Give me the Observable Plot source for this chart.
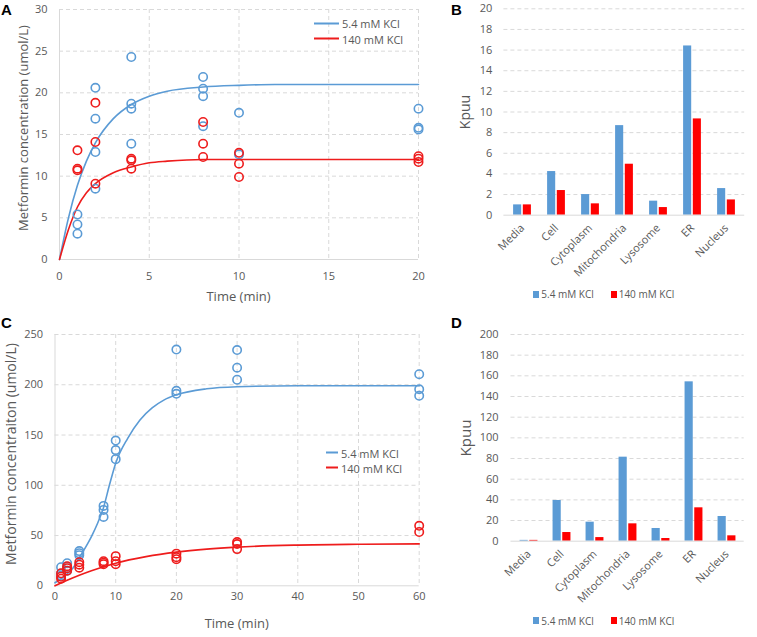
<!DOCTYPE html>
<html><head><meta charset="utf-8">
<script src="https://cdn.jsdelivr.net/npm/d3@7"></script>
<script src="https://cdn.jsdelivr.net/npm/@observablehq/plot@0.6"></script>
<style>
body{margin:0;background:#fff;}
#root{position:relative;width:757px;height:637px;overflow:hidden;font-family:"Open Sans",sans-serif;background:#fff;}
.p{position:absolute;}
.p svg{background:transparent !important;overflow:visible;}
.lbl{position:absolute;white-space:nowrap;color:#595959;line-height:1;}
.rot{transform:translate(-50%,-50%) rotate(-90deg);}
.hc{transform:translate(-50%,-50%);}
.vc{transform:translateY(-50%);display:flex;align-items:center;}
.letter{position:absolute;font-family:"Liberation Sans",Arial,sans-serif;font-weight:bold;font-size:15px;line-height:1;color:#000;}
.sq{display:inline-block;width:6px;height:7px;margin-right:2px;}
.ln{display:inline-block;height:2px;margin-right:3px;}
</style></head><body><div id="root"></div>
<script>
// ---------- data ----------
const seriesNames = ["5.4 mM KCl", "140 mM KCl"];
const compartments = ["Media", "Cell", "Cytoplasm", "Mitochondria", "Lysosome", "ER", "Nucleus"];

// Panel A: measured points
const aBlueT = [1,1,1, 2,2,2,2, 4,4,4,4, 8,8,8,8, 10,10, 20,20,20];
const aBlueY = [5.4,4.2,3.1, 20.6,16.9,12.9,8.5, 24.3,18.7,18.1,13.9, 21.9,20.5,19.6,16.0, 17.6,12.6, 18.1,15.8,15.6];
const aRedT  = [1,1,1, 2,2,2, 4,4,4, 8,8,8, 10,10,10, 20,20,20];
const aRedY  = [13.1,10.9,10.7, 18.8,14.1,9.1, 12.1,11.9,10.9, 16.5,13.9,12.3, 12.8,11.5,9.9, 12.4,12.1,11.7];
// Panel A: fitted curves
const aBlueCurveT = [0,0.5,1,1.5,2,3,4,5,6,8,10,12,15,20];
const aBlueCurveY = [0,5.0,8.9,11.8,14.0,16.9,18.6,19.6,20.2,20.7,20.9,21.0,21.0,21.0];
const aRedCurveT  = [0,0.5,1,1.5,2,3,4,5,6,8,10,15,20];
const aRedCurveY  = [0,3.6,6.3,8.0,9.1,10.4,11.1,11.6,11.8,12.0,12.0,12.0,12.0];

// Panel B: Kpuu
const bBlue = [1.0, 4.23, 2.0, 8.68, 1.36, 16.4, 2.58];
const bRed  = [1.0, 2.39, 1.1, 4.94, 0.74, 9.33, 1.48];

// Panel C: measured points
const cBlueT = [1,1,1, 2,2,2, 4,4,4, 8,8,8, 10,10,10, 20,20,20, 30,30,30, 60,60,60];
const cBlueY = [18.5,12,10, 22.5,19,15, 34.5,32.5,30.5, 79.5,75.5,68.5, 144.5,135,126, 235,194,191, 234.5,217,205, 210.5,195.5,189];
const cRedT  = [1,1,1, 2,2,2, 4,4,4, 8,8,8, 10,10,10, 20,20,20, 30,30,30, 60,60];
const cRedY  = [12.5,9,7, 19.5,17.5,15, 23.5,21,18, 24.5,23,21.5, 29.5,24.5,21.5, 32,28.5,26.5, 43.5,41.5,36.5, 59.7,53.5];
// Panel C: fitted curves
const cBlueCurveT = [0,1,2,3,4,5,6,7,8,9,10,12,14,16,18,20,25,30,40,50,60];
const cBlueCurveY = [3,7,12,18,28,38,49,62,78,101,122,147,165,177,185,190,196,198,199,199,199];
const cRedCurveT  = [0,2,4,6,8,10,15,20,25,30,40,50,60];
const cRedCurveY  = [0,5.5,10.5,15,19,22.5,29,33.5,36.5,38.5,40.5,41.3,41.7];

// Panel D: Kpuu
const dBlue = [0.8, 39.4, 18.4, 81.3, 12.3, 154.2, 23.9];
const dRed  = [0.8, 8.4, 3.5, 16.8, 2.6, 32.3, 5.2];

// ---------- styles ----------
const BLUE = "#5B9BD5", RED = "#FF0000", LRED = "#EE1C1C", GRID = "#D9D9D9", TXT = "#595959";
const root = document.getElementById("root");

function place(node, left, top) {
  const d = document.createElement("div");
  d.className = "p";
  d.style.left = left + "px"; d.style.top = top + "px";
  d.appendChild(node);
  root.appendChild(d);
}
function zip(t, y) { return t.map((v, i) => ({t: v, y: y[i]})); }

function scatter(cfg) {
  const xt = cfg.xTicks, yt = cfg.yTicks;
  return Plot.plot({
    width: cfg.width, height: cfg.height,
    marginLeft: cfg.ml, marginRight: cfg.mr, marginTop: cfg.mt, marginBottom: cfg.mb,
    style: {background: "transparent", fontFamily: "Open Sans", fontSize: "11px", color: TXT},
    x: {domain: [xt[0], xt[xt.length-1]], ticks: xt, tickSize: 0, tickPadding: cfg.xPad, label: null},
    y: {domain: [yt[0], yt[yt.length-1]], ticks: yt, tickSize: 0, tickPadding: 12, label: null},
    marks: [
      Plot.ruleX(xt.slice(1), {stroke: GRID, strokeOpacity: 1, strokeDasharray: "4,3"}),
      Plot.ruleY(yt.slice(1), {stroke: GRID, strokeOpacity: 1, strokeDasharray: "4,3"}),
      Plot.ruleX([xt[0]], {stroke: GRID, strokeOpacity: 1}),
      Plot.ruleY([yt[0]], {stroke: GRID, strokeOpacity: 1}),
      Plot.line(zip(cfg.bcT, cfg.bcY), {x: "t", y: "y", stroke: BLUE, strokeWidth: 1.6, curve: "monotone-x"}),
      Plot.line(zip(cfg.rcT, cfg.rcY), {x: "t", y: "y", stroke: LRED, strokeWidth: 1.6, curve: "monotone-x"}),
      Plot.dot(zip(cfg.bT, cfg.bY), {x: "t", y: "y", r: 4.2, stroke: BLUE, strokeWidth: 1.6, fill: "none"}),
      Plot.dot(zip(cfg.rT, cfg.rY), {x: "t", y: "y", r: 4.2, stroke: LRED, strokeWidth: 1.6, fill: "none"})
    ]
  });
}

function bars(cfg) {
  const yt = cfg.yTicks;
  const bw = (cfg.width - cfg.ml - cfg.mr) / compartments.length;
  const barW = 8.5, gap = 1.2;
  const blueData = compartments.map((c, i) => ({c, v: cfg.blue[i]}));
  const redData = compartments.map((c, i) => ({c, v: cfg.red[i]}));
  return Plot.plot({
    width: cfg.width, height: cfg.height,
    marginLeft: cfg.ml, marginRight: cfg.mr, marginTop: cfg.mt, marginBottom: cfg.mb,
    style: {background: "transparent", fontFamily: "Open Sans", fontSize: "11px", color: TXT},
    x: {type: "band", domain: compartments, padding: 0, tickSize: 0, tickPadding: 11, tickRotate: -45, label: null},
    y: {domain: [yt[0], yt[yt.length-1]], ticks: yt, tickSize: 0, tickPadding: cfg.yPad, label: null},
    marks: [
      Plot.ruleY(yt.slice(1), {stroke: GRID, strokeOpacity: 1, strokeDasharray: "4,3"}),
      Plot.barY(blueData, {x: "c", y: "v", fill: BLUE, insetLeft: bw/2 - gap/2 - barW, insetRight: bw/2 + gap/2}),
      Plot.barY(redData, {x: "c", y: "v", fill: RED, insetLeft: bw/2 + gap/2, insetRight: bw/2 - gap/2 - barW}),
      Plot.ruleY([0], {stroke: GRID, strokeOpacity: 1})
    ]
  });
}

// Panel A
place(scatter({
  width: 430, height: 300, ml: 59, mr: 12, mt: 9, mb: 41, xPad: 13,
  xTicks: [0,5,10,15,20], yTicks: [0,5,10,15,20,25,30],
  bT: aBlueT, bY: aBlueY, rT: aRedT, rY: aRedY,
  bcT: aBlueCurveT, bcY: aBlueCurveY, rcT: aRedCurveT, rcY: aRedCurveY
}), 0, 0);

// Panel C
place(scatter({
  width: 430, height: 327, ml: 54.5, mr: 11.3, mt: 24, mb: 51.7, xPad: 6,
  xTicks: [0,10,20,30,40,50,60], yTicks: [0,50,100,150,200,250],
  bT: cBlueT, bY: cBlueY, rT: cRedT, rY: cRedY,
  bcT: cBlueCurveT, bcY: cBlueCurveY, rcT: cRedCurveT, rcY: cRedCurveY
}), 0, 310);

// Panel B
place(bars({
  width: 327, height: 310, ml: 73.4, mr: 12.8, mt: 8.3, mb: 95.3, yPad: 11.5,
  yTicks: d3.range(0, 21, 2), blue: bBlue, red: bRed
}), 430, 0);

// Panel D
place(bars({
  width: 327, height: 327, ml: 80.5, mr: 13.3, mt: 24, mb: 96.3, yPad: 12.5,
  yTicks: d3.range(0, 201, 20), blue: dBlue, red: dRed
}), 430, 310);

// ---------- text: titles, letters, legends ----------
function label(text, x, y, size, cls) {
  const d = document.createElement("div");
  d.className = "lbl " + cls;
  d.style.left = x + "px"; d.style.top = y + "px"; d.style.fontSize = size + "px";
  d.textContent = text;
  root.appendChild(d);
}
label("Metformin concentration (umol/L)", 23, 128, 13, "rot");
label("Time (min)", 238.5, 296, 13, "hc");
label("Kpuu", 465, 112, 14, "rot");
label("Metformin concentraiton (umol/L)", 11, 454, 14, "rot");
label("Time (min)", 236.7, 623, 13, "hc");
label("Kpuu", 465, 437.5, 15, "rot");

function letter(t, x, y) {
  const d = document.createElement("div");
  d.className = "letter";
  d.style.left = x + "px"; d.style.top = y + "px";
  d.textContent = t;
  root.appendChild(d);
}
letter("A", 1, 2); letter("B", 451, 2); letter("C", 1, 315); letter("D", 451, 315);

function lineLegend(x, y, len, colors) {
  seriesNames.forEach((name, i) => {
    const d = document.createElement("div");
    d.className = "lbl vc";
    d.style.left = x + "px"; d.style.top = (y + i * 15.2) + "px"; d.style.fontSize = "11px";
    const s = document.createElement("span");
    s.className = "ln"; s.style.width = len + "px"; s.style.background = colors[i];
    d.appendChild(s);
    d.appendChild(document.createTextNode(name));
    root.appendChild(d);
  });
}
lineLegend(314, 23.3, 25, [BLUE, LRED]);
lineLegend(326, 452.7, 12, [BLUE, LRED]);

function barLegend(y) {
  const xs = [533.3, 610.7];
  const cols = [BLUE, RED];
  seriesNames.forEach((name, i) => {
    const d = document.createElement("div");
    d.className = "lbl vc";
    d.style.left = xs[i] + "px"; d.style.top = y + "px"; d.style.fontSize = "10px";
    const s = document.createElement("span");
    s.className = "sq"; s.style.background = cols[i];
    d.appendChild(s);
    d.appendChild(document.createTextNode(name));
    root.appendChild(d);
  });
}
barLegend(294);
barLegend(620.7);
</script></body></html>
